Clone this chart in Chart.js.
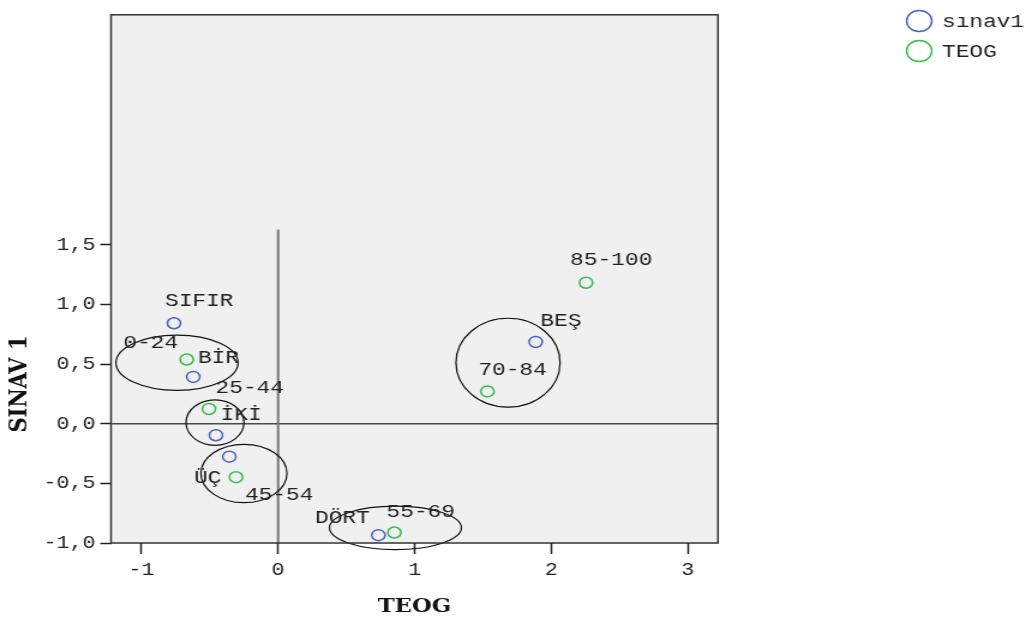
<!DOCTYPE html>
<html>
<head>
<meta charset="utf-8">
<script src="https://cdn.jsdelivr.net/npm/chart.js@4/dist/chart.umd.min.js"></script>
<style>
  html, body { margin: 0; padding: 0; background: #fff; overflow: hidden; }
  /* the original picture is stretched sideways, so the canvas is too */
  #biplot { transform: scaleX(1.2); transform-origin: 0 0; }
</style>
</head>
<body>
<canvas id="biplot" width="860" height="622"></canvas>
<script>
// category points, sinav1
const sinavLabels = ['SIFIR', 'BİR', 'İKİ', 'ÜÇ', 'DÖRT', 'BEŞ'];
const sinavX = [-0.762, -0.621, -0.455, -0.357, 0.734, 1.886];
const sinavY = [0.843, 0.393, -0.096, -0.276, -0.934, 0.686];

// category points, TEOG
const teogLabels = ['0-24', '25-44', '45-54', '55-69', '70-84', '85-100'];
const teogX = [-0.669, -0.506, -0.308, 0.851, 1.532, 2.254];
const teogY = [0.539, 0.124, -0.448, -0.912, 0.271, 1.183];

const xTicks = [-1, 0, 1, 2, 3];
const yTicks = [-1, -0.5, 0, 0.5, 1, 1.5];

// hand drawn rings: centre x, centre y, radius x, radius y (data units)
const groupRings = [
  [-0.740, 0.512, 0.447, 0.232],
  [-0.462, 0.010, 0.212, 0.191],
  [-0.250, -0.417, 0.315, 0.245],
  [0.859, -0.873, 0.483, 0.182],
  [1.683, 0.512, 0.381, 0.373]
];

// reference lines through the origin
const refX = 0, refXTop = 1.63;
const refY = 0;

// label nudges in px (dx, dy) so texts sit like the original
const sinavShift = [[21, -22], [21, -19], [21, -20], [-18, 21], [-30, -17], [21, -21]];
const teogShift = [[-30, -17], [34, -21], [36, 18], [22, -21], [21, -21], [21, -23]];

const monoFont = "'Liberation Mono', 'Courier New', monospace";

const extras = {
  id: 'extras',
  beforeDraw(chart) {
    const {ctx, chartArea: a} = chart;
    ctx.save();
    ctx.fillStyle = '#f0f0f0';
    ctx.fillRect(a.left, a.top, a.width, a.height);
    ctx.restore();
  },
  beforeDatasetsDraw(chart) {
    const {ctx, chartArea: a, scales: {x, y}} = chart;
    ctx.save();
    // axes through origin
    ctx.strokeStyle = '#4a4a4a';
    ctx.lineWidth = 1.5;
    ctx.beginPath();
    ctx.moveTo(a.left, y.getPixelForValue(refY));
    ctx.lineTo(a.right, y.getPixelForValue(refY));
    ctx.stroke();
    ctx.strokeStyle = '#777';
    ctx.lineWidth = 2;
    ctx.beginPath();
    ctx.moveTo(x.getPixelForValue(refX), y.getPixelForValue(refXTop));
    ctx.lineTo(x.getPixelForValue(refX), a.bottom);
    ctx.stroke();

    // rings
    ctx.strokeStyle = '#111';
    ctx.lineWidth = 1.2;
    groupRings.forEach(([cx, cy, rx, ry]) => {
      const px = x.getPixelForValue(cx);
      const py = y.getPixelForValue(cy);
      const prx = Math.abs(x.getPixelForValue(cx + rx) - px);
      const pry = Math.abs(y.getPixelForValue(cy + ry) - py);
      ctx.beginPath();
      ctx.ellipse(px, py, prx, pry, 0, 0, Math.PI * 2);
      ctx.stroke();
    });

    // frame
    ctx.strokeStyle = '#333';
    ctx.lineWidth = 1.5;
    ctx.strokeRect(a.left, a.top, a.width, a.height);
    ctx.restore();
  },
  afterDatasetsDraw(chart) {
    const {ctx} = chart;
    const shifts = [sinavShift, teogShift];
    ctx.save();
    ctx.font = '19px ' + monoFont;
    ctx.fillStyle = '#222';
    ctx.textAlign = 'center';
    ctx.textBaseline = 'middle';
    chart.data.datasets.forEach((ds, i) => {
      chart.getDatasetMeta(i).data.forEach((pt, j) => {
        const [dx, dy] = shifts[i][j];
        ctx.fillText(ds.data[j].name, pt.x + dx, pt.y + dy);
      });
    });
    ctx.restore();
  },
  afterDraw(chart) {
    const {ctx} = chart;
    ctx.save();
    // legend
    ctx.font = '19px ' + monoFont;
    ctx.textBaseline = 'middle';
    ctx.textAlign = 'left';
    chart.data.datasets.forEach((ds, i) => {
      const cy = 21 + i * 30;
      ctx.strokeStyle = ds.borderColor;
      ctx.lineWidth = 1.5;
      ctx.beginPath();
      ctx.arc(766, cy, 10.5, 0, Math.PI * 2);
      ctx.stroke();
      ctx.fillStyle = '#222';
      ctx.fillText(ds.label, 785, cy + 1);
    });
    // y title
    ctx.translate(16.5, 384);
    ctx.rotate(-Math.PI / 2);
    ctx.font = "bold 21px 'DejaVu Serif', serif";
    ctx.fillStyle = '#111';
    ctx.textAlign = 'center';
    ctx.fillText('SINAV 1', 0, 0);
    ctx.restore();
  }
};

const toPoints = (xs, ys, names) => xs.map((v, i) => ({x: v, y: ys[i], name: names[i]}));

new Chart('biplot', {
  type: 'scatter',
  data: {
    datasets: [
      {
        label: 'sınav1',
        data: toPoints(sinavX, sinavY, sinavLabels),
        borderColor: '#4a62c4',
        backgroundColor: 'rgba(0,0,0,0)',
        pointRadius: 5.5,
        pointHoverRadius: 5.5,
        borderWidth: 1.5
      },
      {
        label: 'TEOG',
        data: toPoints(teogX, teogY, teogLabels),
        borderColor: '#36bc4c',
        backgroundColor: 'rgba(0,0,0,0)',
        pointRadius: 5.5,
        pointHoverRadius: 5.5,
        borderWidth: 1.5
      }
    ]
  },
  options: {
    responsive: false,
    animation: false,
    events: [],
    layout: { padding: { top: 8, right: 261.7, left: 0, bottom: 0 } },
    plugins: {
      legend: { display: false },
      tooltip: { enabled: false }
    },
    scales: {
      x: {
        type: 'linear',
        position: 'bottom',
        min: -1.223,
        max: 3.22,
        afterBuildTicks: s => { s.ticks = xTicks.map(v => ({value: v})); },
        afterFit: s => { s.height = 79; },
        border: { display: false },
        grid: { drawOnChartArea: false, drawTicks: true, tickLength: 11, tickColor: '#222', tickWidth: 1.5 },
        ticks: { font: { family: monoFont, size: 18 }, color: '#222', padding: 5, maxRotation: 0, autoSkip: false },
        title: {
          display: true,
          text: 'TEOG',
          color: '#111',
          font: { family: "'DejaVu Serif', serif", size: 19, weight: 'bold' },
          padding: { top: 0, bottom: 4 }
        }
      },
      y: {
        type: 'linear',
        position: 'left',
        min: -1.0,
        max: 3.43,
        afterBuildTicks: s => { s.ticks = yTicks.map(v => ({value: v})); },
        afterFit: s => { s.width = 92.5; },
        border: { display: false },
        grid: { drawOnChartArea: false, drawTicks: true, tickLength: 9, tickColor: '#222', tickWidth: 1.5 },
        ticks: {
          font: { family: monoFont, size: 18 },
          color: '#222',
          padding: 4,
          autoSkip: false,
          callback: v => v.toFixed(1).replace('.', ',')
        }
      }
    }
  },
  plugins: [extras]
});
</script>
</body>
</html>
